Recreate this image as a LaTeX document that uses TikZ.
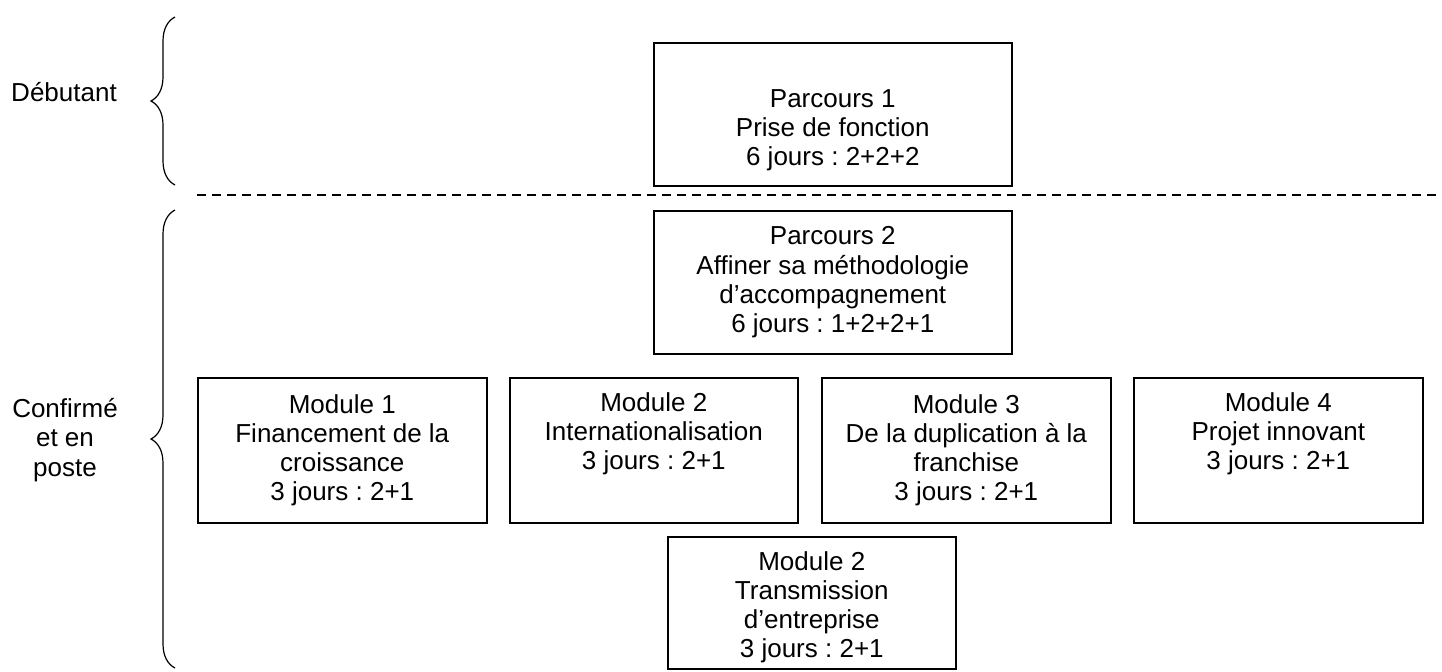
\documentclass[tikz,border=0pt]{standalone}
\usepackage{fontspec}
\setmainfont{Liberation Sans}
\usetikzlibrary{decorations.pathreplacing}

\tikzset{
  cadre/.style={draw, line width=0.8pt, anchor=north west, align=center, inner sep=0pt,
    font=\fontsize{13}{14.6}\selectfont},
  niveau/.style={align=center, font=\fontsize{13}{14.6}\selectfont},
  accolade/.style={decorate, line width=0.6pt, decoration={brace, amplitude=12pt}},
  trait/.style={line width=0.6pt, dash pattern=on 4.5pt off 3pt}
}

\begin{document}
\frenchspacing
\begin{tikzpicture}[x=0.5pt, y=-0.5pt]
  \useasboundingbox (0,0) rectangle (1442,671);
  % levels on the left
  \coordinate (a1) at (175,17);
  \coordinate (a2) at (175,185);
  \coordinate (b1) at (175,210);
  \coordinate (b2) at (175,668);
  \draw[accolade] (a2) -- (a1);
  \draw[accolade] (b2) -- (b1);
  \node[niveau] (debutant) at (64,92) {Débutant};
  \node[niveau] (confirme) at (65,440) {Confirmé\\et en\\poste};
  % the dashed line
  \coordinate (t1) at (197,195);
  \coordinate (t2) at (1442,195);
  \draw[trait] (t1) -- (t2);
  % two parcours
  \node[cadre, minimum width=179pt, minimum height=71.5pt] (p1) at (653,42)
    {\strut\\Parcours 1\\Prise de fonction\\6 jours : 2+2+2};
  \node[cadre, minimum width=179pt, minimum height=71.5pt] (p2) at (653,210)
    {Parcours 2\\Affiner sa méthodologie\\d’accompagnement\\6 jours : 1+2+2+1};
  % and five modules
  \node[cadre, minimum width=144.5pt, minimum height=72.5pt] (m1) at (197,377)
    {Module 1\\Financement de la\\croissance\\3 jours : 2+1};
  \node[cadre, minimum width=144pt, minimum height=72.5pt] (m2) at (509,377)
    {Module 2\\Internationalisation\\3 jours : 2+1\\\strut};
  \node[cadre, minimum width=144.5pt, minimum height=72.5pt] (m3) at (821,377)
    {Module 3\\De la duplication à la\\franchise\\3 jours : 2+1};
  \node[cadre, minimum width=144.5pt, minimum height=72.5pt] (m4) at (1133,377)
    {Module 4\\Projet innovant\\3 jours : 2+1\\\strut};
  \node[cadre, minimum width=144pt, minimum height=66pt] (m5) at (667,536)
    {\rule{0pt}{14pt}Module 2\\Transmission\\d’entreprise\\3 jours : 2+1};
\end{tikzpicture}
\end{document}
